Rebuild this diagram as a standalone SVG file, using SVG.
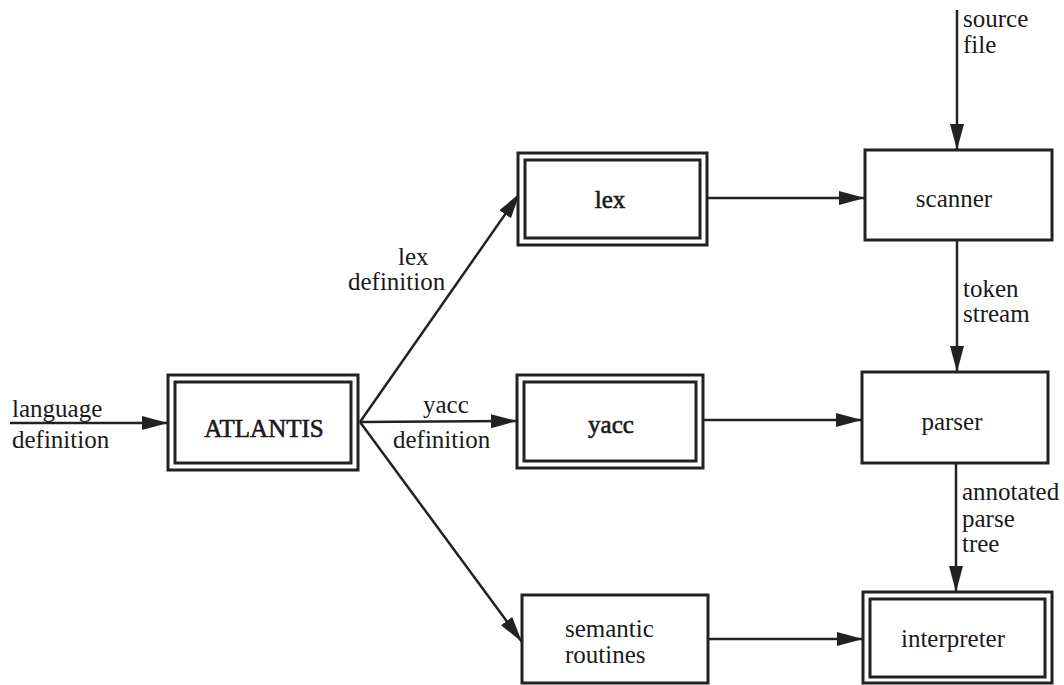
<svg xmlns="http://www.w3.org/2000/svg" width="1064" height="685" viewBox="0 0 1064 685" font-family="'Liberation Serif', 'DejaVu Serif', serif">
  <style>
    .box { fill: #ffffff; stroke: #222222; stroke-width: 3; }
    .inner { fill: none; stroke: #222222; stroke-width: 3; }
    .edge { fill: none; stroke: #222222; stroke-width: 2.5; marker-end: url(#arrow); }
    text { font-family: 'Liberation Serif', 'DejaVu Serif', serif; font-size: 25px; fill: #1a1a1a; }
    .name { text-anchor: middle; }
    .heavy { stroke: #1a1a1a; stroke-width: 0.6; }
  </style>
  <defs>
    <marker id="arrow" markerUnits="userSpaceOnUse" markerWidth="27" markerHeight="15" refX="26" refY="7" orient="auto">
      <path d="M0,0 L26,7 L0,14 z" fill="#222222"/>
    </marker>
  </defs>
  <rect width="1064" height="685" fill="#ffffff"/>

  <!-- connectors and their labels -->
  <g id="connectors">
    <line class="edge" x1="10" y1="423" x2="168" y2="423"/>
    <line class="edge" x1="360" y1="422" x2="520" y2="193"/>
    <line class="edge" x1="360" y1="422" x2="517" y2="421"/>
    <line class="edge" x1="360" y1="422" x2="522" y2="642"/>
    <line class="edge" x1="707" y1="198" x2="865" y2="198"/>
    <line class="edge" x1="703" y1="420" x2="862" y2="420"/>
    <line class="edge" x1="708" y1="639" x2="863" y2="639"/>
    <line class="edge" x1="957" y1="10" x2="957" y2="150"/>
    <line class="edge" x1="957" y1="240" x2="957" y2="372"/>
    <line class="edge" x1="956" y1="463" x2="956" y2="592"/>

    <text x="12" y="417">language</text>
    <text x="12" y="448">definition</text>
    <text x="398" y="265">lex</text>
    <text x="348" y="290">definition</text>
    <text x="423" y="413">yacc</text>
    <text x="393" y="448">definition</text>
    <text x="963" y="27">source</text>
    <text x="963" y="53">file</text>
    <text x="963" y="297">token</text>
    <text x="963" y="322">stream</text>
    <text x="962" y="500">annotated</text>
    <text x="962" y="527">parse</text>
    <text x="962" y="552">tree</text>
  </g>

  <!-- nodes -->
  <g id="atlantis">
    <rect class="box" x="168" y="375" width="190" height="95"/>
    <rect class="inner" x="175" y="382" width="176" height="81"/>
    <text class="name heavy" x="264" y="437">ATLANTIS</text>
  </g>
  <g id="lex">
    <rect class="box" x="518" y="153" width="189" height="92"/>
    <rect class="inner" x="525" y="160" width="175" height="78"/>
    <text class="name heavy" x="610" y="208">lex</text>
  </g>
  <g id="yacc">
    <rect class="box" x="517" y="375" width="186" height="93"/>
    <rect class="inner" x="524" y="382" width="172" height="79"/>
    <text class="name heavy" x="611" y="433">yacc</text>
  </g>
  <g id="semantic-routines">
    <rect class="box" x="522" y="595" width="186" height="88"/>
    <text x="565" y="637">semantic</text>
    <text x="565" y="663">routines</text>
  </g>
  <g id="scanner">
    <rect class="box" x="865" y="150" width="187" height="90"/>
    <text class="name" x="954" y="207">scanner</text>
  </g>
  <g id="parser">
    <rect class="box" x="862" y="372" width="186" height="91"/>
    <text class="name" x="952" y="430">parser</text>
  </g>
  <g id="interpreter">
    <rect class="box" x="863" y="592" width="189" height="91"/>
    <rect class="inner" x="870" y="599" width="175" height="78"/>
    <text class="name" x="953" y="647">interpreter</text>
  </g>
</svg>
